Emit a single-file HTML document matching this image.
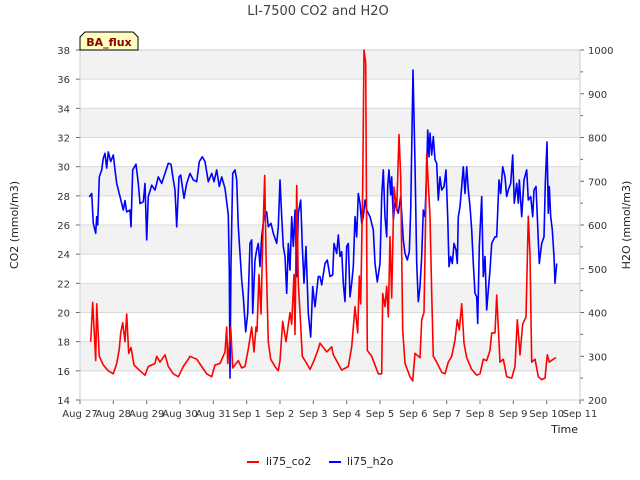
<!DOCTYPE html>
<html><head><meta charset="utf-8"><style>
body{margin:0;background:#fff;}
svg{display:block;font-family:"DejaVu Sans","Liberation Sans",sans-serif;}
</style></head><body>
<svg id="chart" width="640" height="480">
<rect x="0" y="0" width="640" height="480" fill="#fff"/>
<g id="bands"></g>
<g id="grid"></g>
<g id="axes"></g>
<g id="series"></g>
<text x="318" y="15" text-anchor="middle" font-size="13" fill="#404040">LI-7500 CO2 and H2O</text>
<text transform="translate(18,225) rotate(-90)" text-anchor="middle" font-size="11" fill="#222">CO2 (mmol/m3)</text>
<text transform="translate(630,225) rotate(-90)" text-anchor="middle" font-size="11" fill="#222">H2O (mmol/m3)</text>
<text x="578" y="433" text-anchor="end" font-size="11" fill="#222">Time</text>
<g>
<path d="M80,50 L80,37 L85,32 L133,32 L138,37 L138,50 Z" fill="#ffffc0" stroke="#000" stroke-width="1"/>
<text x="109" y="46" text-anchor="middle" font-size="11" font-weight="bold" fill="#8b0000">BA_flux</text>
</g>
<g>
<g><line x1="247" y1="462" x2="259" y2="462" stroke="red" stroke-width="2"/><text x="266" y="465" font-size="11" fill="#222">li75_co2</text></g>
<g><line x1="329" y1="462" x2="341" y2="462" stroke="blue" stroke-width="2"/><text x="347" y="465" font-size="11" fill="#222">li75_h2o</text></g>
</g>
</svg>
<script>
const xTickLabels=["Aug 27","Aug 28","Aug 29","Aug 30","Aug 31","Sep 1","Sep 2","Sep 3","Sep 4","Sep 5","Sep 6","Sep 7","Sep 8","Sep 9","Sep 10","Sep 11"];
const leftTicks=[14,16,18,20,22,24,26,28,30,32,34,36,38];
const rightTicks=[200,300,400,500,600,700,800,900,1000];
const co2Days=[0.32,0.38,0.47,0.50,0.58,0.70,0.85,1.00,1.10,1.18,1.22,1.28,1.35,1.40,1.46,1.53,1.62,1.80,1.95,2.05,2.25,2.30,2.40,2.55,2.65,2.80,2.95,3.10,3.25,3.30,3.50,3.65,3.80,3.95,4.05,4.20,4.35,4.40,4.43,4.52,4.58,4.75,4.85,4.95,5.05,5.15,5.22,5.28,5.31,5.37,5.43,5.48,5.54,5.58,5.65,5.72,5.85,5.95,6.00,6.08,6.18,6.30,6.35,6.42,6.45,6.50,6.55,6.60,6.67,6.80,6.90,7.02,7.15,
7.2,7.4,7.55,7.6,7.85,8.05,8.15,8.25,8.33,8.38,8.42,8.48,8.52,8.57,8.62,8.75,8.95,9.05,9.08,9.15,9.2,9.25,9.3,9.35,9.42,9.5,9.57,9.62,9.68,9.75,9.9,9.98,10.05,10.2,10.25,10.32,10.4,10.5,10.55,10.6,10.7,10.85,10.95,11.05,11.15,11.25,11.32,11.38,11.45,11.52,11.6,11.75,11.9,12.0,12.1,12.2,12.3,12.35,12.45,12.5,12.6,12.7,12.8,12.95,13.05,13.12,13.2,13.28,13.38,13.45,13.5,13.55,13.65,13.75,13.85,13.95,14.02,14.08,14.2,14.28];
const co2Vals=[18,20.7,16.7,20.6,17,16.4,16,15.8,16.5,17.5,18.6,19.3,18,19.9,17.2,17.6,16.4,16,15.7,16.3,16.5,17,16.6,17.1,16.3,15.8,15.6,16.3,16.8,17,16.8,16.3,15.8,15.6,16.4,16.5,17.3,19,16.5,19,16.2,16.7,16.2,16.3,17.5,19,17.3,19,18.7,22.6,19.9,25,29.4,24,18,16.8,16.3,16,16.7,19.4,18,20,19.2,22.6,18.5,28.7,22,20,17,16.5,16.1,16.7,17.5,
17.9,17.3,17.65,17.1,16.05,16.3,17.65,20.4,18.6,22.5,20.6,28.6,38,37.1,17.4,17,15.8,15.8,21.3,20.4,21.8,19.7,25.2,21,28.6,27,32.2,29.3,18.8,16.5,15.6,15.3,17.2,16.9,19.5,20,30.9,26.6,21.3,17,16.6,15.9,15.8,16.6,17,18.1,19.5,18.8,20.6,17.9,16.9,16.1,15.7,15.8,16.8,16.7,17.4,18.6,18.6,21.2,16.6,16.8,15.6,15.5,16.3,19.5,17.1,19.2,19.7,26.6,24,16.6,16.8,15.6,15.4,15.5,17.1,16.6,16.8,16.9];
const h2oDays=[0.28,0.35,0.40,0.47,0.50,0.53,0.58,0.65,0.70,0.75,0.80,0.85,0.92,1.00,1.05,1.10,1.20,1.30,1.35,1.40,1.50,1.53,1.58,1.68,1.75,1.80,1.90,1.95,2.00,2.05,2.15,2.25,2.35,2.45,2.55,2.65,2.73,2.80,2.85,2.90,2.97,3.02,3.12,3.20,3.30,3.40,3.50,3.58,3.67,3.75,3.85,3.95,4.02,4.10,4.18,4.25,4.35,4.45,4.48,4.50,4.53,4.58,4.65,4.70,4.75,4.85,4.90,4.97,5.03,5.10,5.15,5.18,5.25,5.30,5.35,5.40,5.45,5.52,5.60,5.65,5.73,5.80,5.90,5.95,6.00,6.05,6.10,6.15,6.20,6.25,6.30,6.35,6.40,6.45,6.50,6.55,6.62,6.67,6.72,6.78,6.85,6.92,6.98,7.05,7.15,
7.2,7.25,7.35,7.42,7.5,7.58,7.62,7.7,7.75,7.8,7.85,7.9,7.95,8.0,8.05,8.1,8.15,8.2,8.25,8.3,8.35,8.4,8.45,8.5,8.55,8.6,8.7,8.8,8.85,8.92,9.0,9.05,9.1,9.15,9.2,9.23,9.27,9.32,9.35,9.4,9.45,9.55,9.62,9.7,9.75,9.82,9.88,9.92,9.99,10.05,10.1,10.15,10.2,10.25,10.3,10.35,10.4,10.43,10.47,10.5,10.55,10.6,10.65,10.7,10.75,10.8,10.85,10.92,10.98,11.03,11.07,11.12,11.17,11.22,11.28,11.32,11.35,11.4,11.45,11.5,11.55,11.6,11.65,11.7,11.75,11.8,11.85,11.9,11.93,11.98,12.05,12.1,12.15,12.2,12.25,12.3,12.35,12.45,12.5,12.57,12.62,12.68,12.75,12.8,12.85,12.92,12.98,13.03,13.1,13.15,13.18,13.25,13.32,13.4,13.45,13.52,13.58,13.62,13.68,13.72,13.78,13.85,13.92,13.96,14.01,14.05,14.08,14.12,14.17,14.22,14.25,14.3];
const h2oVals=[664,672,604,581,619,600,710,726,753,764,730,767,745,760,726,695,665,634,656,630,634,596,726,739,695,649,653,695,566,665,691,680,710,695,718,741,739,703,680,596,710,714,661,695,718,703,699,745,756,745,699,718,699,726,688,710,684,623,497,250,512,718,726,703,596,474,436,356,398,558,566,398,520,543,558,505,573,619,630,596,604,581,558,596,703,619,551,528,444,558,497,619,551,634,482,627,657,551,467,551,398,344,459,413,482,
482,463,512,520,482,486,558,535,577,528,539,467,425,551,558,436,467,505,619,573,672,650,604,619,657,634,619,589,512,470,512,665,726,619,573,688,726,669,710,611,650,627,665,566,535,520,539,634,954,741,512,425,459,528,634,619,726,817,756,810,760,802,749,741,657,710,680,688,726,619,505,528,512,558,543,512,619,642,688,733,672,733,680,642,589,512,444,436,375,551,665,482,528,406,451,497,558,573,573,703,672,733,710,665,680,695,760,650,695,650,703,619,703,726,657,665,619,680,688,619,512,558,573,695,790,627,688,619,589,528,467,512];
const X0=80,X1=580,Y0=400,Y1=50;
const xs=d=>X0+(d)*(X1-X0)/15;
const yL=v=>Y0-(v-14)*(Y0-Y1)/24;
const yR=v=>Y0-(v-200)*(Y0-Y1)/800;
const NS="http://www.w3.org/2000/svg";
function mk(tag,attrs,parent,text){const e=document.createElementNS(NS,tag);for(const k in attrs)e.setAttribute(k,attrs[k]);if(text!==undefined)e.textContent=text;parent.appendChild(e);return e;}
const bands=document.getElementById('bands'),grid=document.getElementById('grid'),axes=document.getElementById('axes'),series=document.getElementById('series');
for(let i=0;i<leftTicks.length-1;i++){
  if(i%2===1){const b=mk('rect',{x:X0,y:yL(leftTicks[i+1]),width:X1-X0,height:yL(leftTicks[i])-yL(leftTicks[i+1]),fill:'#f2f2f2'},bands);
  
  }
}
leftTicks.forEach(v=>{
  const g=mk('line',{x1:X0,x2:X1,y1:yL(v),y2:yL(v),stroke:'#d9d9d9','stroke-width':1},grid);
  
  
  const t=mk('text',{x:X0-10,y:yL(v)+4,'text-anchor':'end','font-size':10,fill:'#333'},axes,String(v));
  
  
  mk('line',{x1:X0-4,x2:X0,y1:yL(v),y2:yL(v),stroke:'#666'},axes);
});
rightTicks.forEach(v=>{
  const t=mk('text',{x:X1+8,y:yR(v)+4,'font-size':10,fill:'#333'},axes,String(v));
  
  
  mk('line',{x1:X1,x2:X1+4,y1:yR(v),y2:yR(v),stroke:'#666'},axes);
  if(v<1000) mk('line',{x1:X1,x2:X1+3,y1:yR(v+50),y2:yR(v+50),stroke:'#666'},axes);
});
xTickLabels.forEach((s,i)=>{
  const t=mk('text',{x:xs(i),y:Y0+17,'text-anchor':'middle','font-size':10,fill:'#333'},axes,s);
  
  
  mk('line',{x1:xs(i),x2:xs(i),y1:Y0,y2:Y0+4,stroke:'#666'},axes);
});
const fr=mk('rect',{x:X0,y:Y1,width:X1-X0,height:Y0-Y1,fill:'none',stroke:'#ccc'},axes);


function line(days,vals,yf,color,name){
  const pts=days.map((d,i)=>[d,vals[i]]).sort((a,b)=>a[0]-b[0]).map(p=>xs(p[0]).toFixed(1)+','+yf(p[1]).toFixed(1)).join(' ');
  const p=mk('polyline',{points:pts,fill:'none',stroke:color,'stroke-width':1.6,'stroke-linejoin':'round'},series);
  
  
}
line(h2oDays,h2oVals,yR,'blue','h2o-line');
line(co2Days,co2Vals,yL,'red','co2-line');
</script>
</body></html>
